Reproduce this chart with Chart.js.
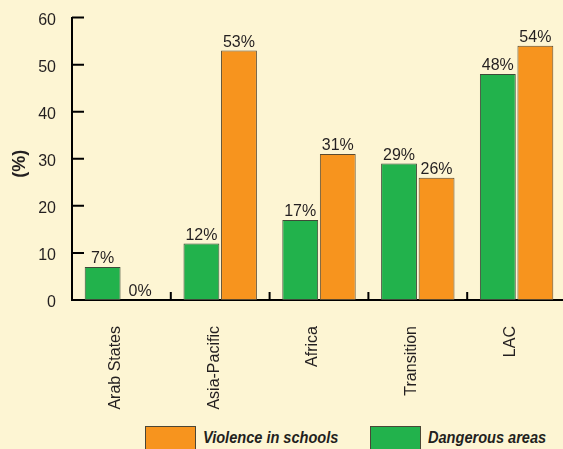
<!DOCTYPE html>
<html lang="en">
<head>
    <meta charset="UTF-8">
    <title>Violence in schools / Dangerous areas</title>
    <script src="https://cdn.jsdelivr.net/npm/chart.js"></script>
    <style>
        html, body {
            margin: 0;
            padding: 0;
            width: 563px;
            height: 449px;
            overflow: hidden;
            background: #fdf5d3;
            font-family: "Liberation Sans", Arial, sans-serif;
        }

        #chart-container {
            position: absolute;
            left: 0;
            top: 0;
            width: 566px;
            height: 420px;
        }

        .legend-item {
            position: absolute;
            top: 426px;
        }

        .legend-box {
            position: absolute;
            top: 0;
            width: 49px;
            height: 28px;
            border: 1px solid #4a4636;
        }

        .legend-text {
            position: absolute;
            top: 3px;
            white-space: nowrap;
            font-size: 16px;
            font-weight: bold;
            font-style: italic;
            color: #231f20;
            transform: scaleX(0.91);
            transform-origin: left center;
        }
    </style>
</head>
<body>
    <div id="chart-container">
        <canvas id="regionChart"></canvas>
    </div>

    <div class="legend-item" style="left:145px">
        <div class="legend-box" style="background:#f7941e"></div>
        <div class="legend-text" style="left:58px">Violence in schools</div>
    </div>
    <div class="legend-item" style="left:370px">
        <div class="legend-box" style="background:#22b24c"></div>
        <div class="legend-text" style="left:58px">Dangerous areas</div>
    </div>

    <script>
        const regions = ['Arab States', 'Asia-Pacific', 'Africa', 'Transition', 'LAC'];
        const dangerousAreas = [7, 12, 17, 29, 48];
        const violenceInSchools = [0, 53, 31, 26, 54];
        const yTicks = [0, 10, 20, 30, 40, 50, 60];

        const ink = '#231f20';
        const family = '"Liberation Sans", Arial, sans-serif';

        // labels "xx%" above each bar
        const barLabels = {
            id: 'barLabels',
            afterDatasetsDraw(chart) {
                const ctx = chart.ctx;
                ctx.save();
                ctx.font = '16px ' + family;
                ctx.fillStyle = ink;
                ctx.textAlign = 'center';
                ctx.textBaseline = 'alphabetic';
                chart.data.datasets.forEach((ds, i) => {
                    chart.getDatasetMeta(i).data.forEach((bar, j) => {
                        ctx.fillText(ds.data[j] + '%', bar.x, bar.y - 4);
                    });
                });
                ctx.restore();
            }
        };

        // short tick marks: inside the y axis, and up from the x axis between groups
        const axisMarks = {
            id: 'axisMarks',
            afterDraw(chart) {
                const ctx = chart.ctx;
                const area = chart.chartArea;
                const x = chart.scales.x;
                const y = chart.scales.y;
                ctx.save();
                ctx.strokeStyle = '#000';
                ctx.lineWidth = 2;
                ctx.beginPath();
                y.ticks.forEach(t => {
                    const py = y.getPixelForValue(t.value);
                    ctx.moveTo(area.left, py);
                    ctx.lineTo(area.left + 12, py);
                });
                for (let i = 1; i < regions.length; i++) {
                    const px = (x.getPixelForValue(i - 1) + x.getPixelForValue(i)) / 2;
                    ctx.moveTo(px, area.bottom);
                    ctx.lineTo(px, area.bottom - 8);
                }
                ctx.stroke();
                ctx.restore();
            }
        };

        const ctx = document.getElementById('regionChart').getContext('2d');

        new Chart(ctx, {
            type: 'bar',
            data: {
                labels: regions,
                datasets: [{
                    label: 'Dangerous areas',
                    data: dangerousAreas,
                    backgroundColor: '#22b24c',
                    borderColor: '#3f4a38',
                    borderWidth: 1,
                    borderSkipped: false
                }, {
                    label: 'Violence in schools',
                    data: violenceInSchools,
                    backgroundColor: '#f7941e',
                    borderColor: '#5a4a30',
                    borderWidth: 1,
                    borderSkipped: false
                }]
            },
            options: {
                responsive: true,
                maintainAspectRatio: false,
                animation: false,
                categoryPercentage: 0.76,
                barPercentage: 0.955,
                layout: {
                    padding: { top: 17, right: 0, bottom: 0, left: 0 }
                },
                plugins: {
                    legend: { display: false },
                    tooltip: { enabled: false }
                },
                scales: {
                    x: {
                        grid: { display: false },
                        border: { color: '#000', width: 2 },
                        ticks: {
                            color: ink,
                            font: { family: family, size: 16 },
                            minRotation: 90,
                            maxRotation: 90,
                            autoSkip: false,
                            padding: 18,
                            labelOffset: -6
                        },
                        afterFit(scale) { scale.height = 120; }
                    },
                    y: {
                        min: 0,
                        max: 60,
                        afterBuildTicks(scale) {
                            scale.ticks = yTicks.map(v => ({ value: v }));
                        },
                        grid: { display: false },
                        border: { color: '#000', width: 2 },
                        ticks: {
                            color: ink,
                            font: { family: family, size: 16 },
                            padding: 8,
                            labelOffset: 3
                        },
                        title: {
                            display: true,
                            text: '(%)\u00a0\u00a0',
                            color: ink,
                            font: { family: family, size: 18, weight: 'bold' },
                            padding: { top: 9, bottom: 0 }
                        },
                        afterFit(scale) { scale.width = 72; }
                    }
                }
            },
            plugins: [barLabels, axisMarks]
        });
    </script>
</body>
</html>
